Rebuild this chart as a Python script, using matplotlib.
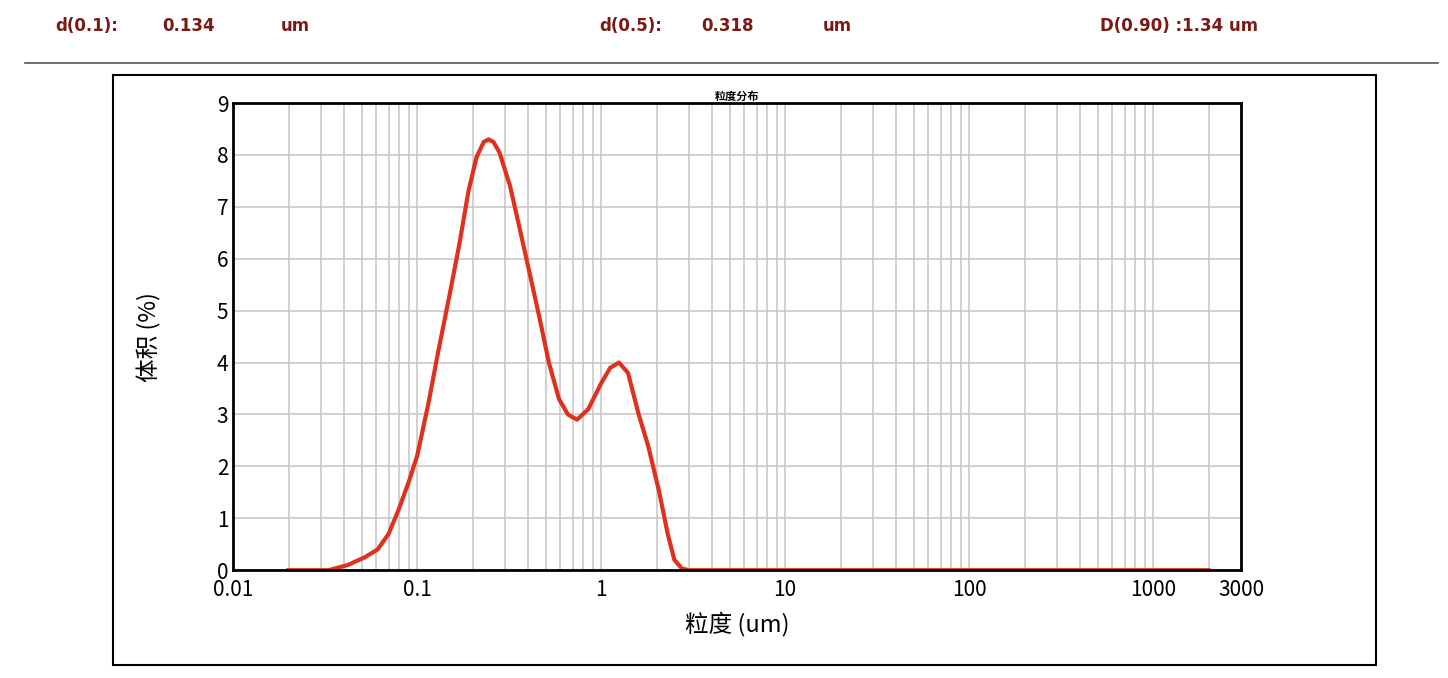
import matplotlib
matplotlib.use("Agg")
import matplotlib.pyplot as plt
import numpy as np
from matplotlib.ticker import FixedLocator, LogLocator, NullFormatter

plt.rcParams['font.family'] = ['Noto Sans CJK SC', 'DejaVu Sans']

# particle size (um) and volume (%)
size = [0.02, 0.033, 0.042, 0.052, 0.061, 0.07, 0.08, 0.09, 0.1, 0.115, 0.13, 0.15, 0.17,
        0.19, 0.21, 0.23, 0.245, 0.26, 0.28, 0.32, 0.36, 0.41, 0.46, 0.52, 0.59, 0.66, 0.74,
        0.85, 1.0, 1.12, 1.25, 1.4, 1.6, 1.8, 2.07, 2.3, 2.5, 2.75, 3.0, 10, 100, 2000]
volume = [0, 0, 0.1, 0.25, 0.4, 0.7, 1.2, 1.7, 2.2, 3.2, 4.2, 5.3, 6.3,
          7.3, 7.95, 8.25, 8.3, 8.25, 8.05, 7.4, 6.6, 5.7, 4.9, 4.0, 3.3, 3.0, 2.9,
          3.1, 3.6, 3.9, 4.0, 3.8, 3.0, 2.4, 1.5, 0.7, 0.2, 0.03, 0, 0, 0, 0]
xticks = [0.01, 0.1, 1, 10, 100, 1000, 3000]
xticklabels = ['0.01', '0.1', '1', '10', '100', '1000', '3000']

fig = plt.figure(figsize=(14.48, 6.78), dpi=100)
fig.text(0.038, 0.955, 'd(0.1):', color='#7a1a14', fontsize=12, fontweight='bold', family='DejaVu Sans')
fig.text(0.112, 0.955, '0.134', color='#7a1a14', fontsize=12, fontweight='bold', family='DejaVu Sans')
fig.text(0.194, 0.955, 'um', color='#7a1a14', fontsize=12, fontweight='bold', family='DejaVu Sans')
fig.text(0.414, 0.955, 'd(0.5):', color='#7a1a14', fontsize=12, fontweight='bold', family='DejaVu Sans')
fig.text(0.484, 0.955, '0.318', color='#7a1a14', fontsize=12, fontweight='bold', family='DejaVu Sans')
fig.text(0.568, 0.955, 'um', color='#7a1a14', fontsize=12, fontweight='bold', family='DejaVu Sans')
fig.text(0.760, 0.955, 'D(0.90) :1.34 um', color='#7a1a14', fontsize=12, fontweight='bold', family='DejaVu Sans')
fig.add_artist(plt.Line2D([0.017, 0.993], [0.907, 0.907], color='#555555', lw=1.2))
fig.add_artist(plt.Rectangle((0.078, 0.019), 0.872, 0.870, fill=False, ec='black', lw=1.5))

ax = fig.add_axes([0.161, 0.159, 0.696, 0.689])
ax.plot(size, volume, color='#e0301e', lw=3)
ax.set_xscale('log')
ax.set_xlim(0.01, 3000)
ax.set_ylim(0, 9)
ax.set_yticks(range(10))
ax.xaxis.set_major_locator(FixedLocator(xticks))
ax.set_xticklabels(xticklabels)
ax.xaxis.set_minor_locator(LogLocator(base=10, subs=np.arange(2, 10)))
ax.xaxis.set_minor_formatter(NullFormatter())
ax.grid(True, which='both', color='#c8c8c8', lw=1.2)
ax.tick_params(labelsize=15, length=0, which='both')
ax.tick_params(axis='x', pad=6)
for s in ax.spines.values():
    s.set_linewidth(2)
ax.set_title('粒度分布', fontsize=8, fontweight='bold', pad=2)
ax.set_xlabel('粒度 (um)', fontsize=17, labelpad=8)
ax.set_ylabel('体积 (%)', fontsize=17, labelpad=40)

fig.savefig('out.png')
